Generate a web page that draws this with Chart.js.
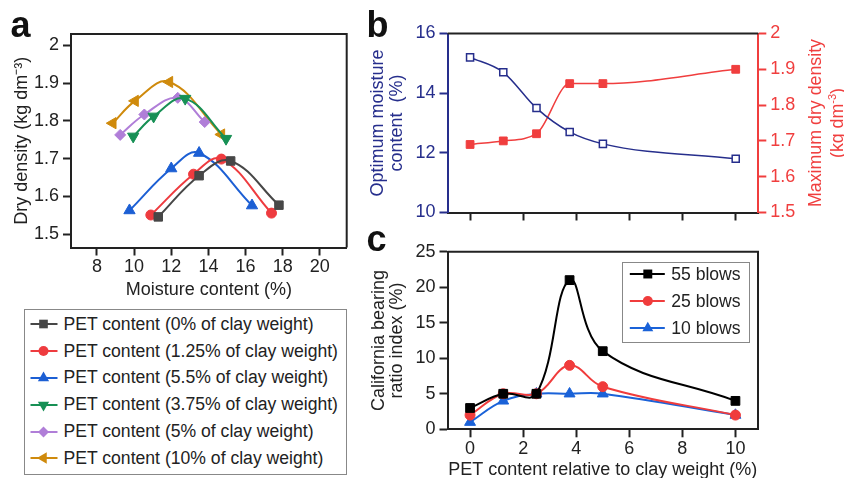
<!DOCTYPE html>
<html lang="en">
<head>
<meta charset="UTF-8">
<title>PET clay compaction</title>
<script src="https://cdn.jsdelivr.net/npm/chart.js"></script>
<style>
  body { margin: 0; background: #fff; font-family: "Liberation Sans", Arial, sans-serif; color: #222; }
  #wrap { position: relative; width: 844px; height: 478px; overflow: hidden; background: #fff; }
  canvas { position: absolute; }
  .plabel { position: absolute; font-weight: bold; font-size: 36px; line-height: 36px; color: #111; }
  .legend { position: absolute; border: 1.5px solid #888; box-sizing: border-box; font-size: 17.6px; }
  .legend .row { display: flex; align-items: center; height: 26.8px; white-space: nowrap; }
  .legend svg { flex: none; }
  .rtitle { position: absolute; width: 210px; height: 44px; font-size: 17.8px; line-height: 22px;
            text-align: center; color: #f03e3e; transform: rotate(-90deg); }
</style>
</head>
<body>
<div id="wrap">
  <canvas id="chartA" width="360" height="300" style="left:0;top:0"></canvas>
  <canvas id="chartB" width="484" height="230" style="left:360px;top:0"></canvas>
  <canvas id="chartC" width="484" height="248" style="left:360px;top:230px"></canvas>

  <div class="plabel" style="left:10.5px;top:7px">a</div>
  <div class="plabel" style="left:366.5px;top:7px">b</div>
  <div class="plabel" style="left:366.5px;top:221px">c</div>

  <!-- right axis title of panel b reads bottom-to-top, so it is placed by hand -->
  <div class="rtitle" style="left:721px;top:101px">Maximum dry density<br>(kg dm<sup style="font-size:11px;line-height:0">-3</sup>)</div>

  <div class="legend" id="legendA" style="left:24px;top:309px;width:323px;height:166px;padding-top:1px"></div>
  <div class="legend" id="legendC" style="left:621.7px;top:261.7px;width:128.3px;height:81.6px"></div>
</div>

<script>
// ---- panel a: compaction curves (moisture %, dry density kg/dm3)
const moisture0 = [11.3, 13.5, 15.2, 17.8];
const density0 = [1.546, 1.655, 1.694, 1.577];
const moisture125 = [10.9, 13.2, 14.7, 17.4];
const density125 = [1.551, 1.659, 1.699, 1.556];
const moisture55 = [9.75, 12.0, 13.5, 16.35];
const density55 = [1.563, 1.674, 1.715, 1.576];
const moisture375 = [9.95, 11.05, 12.75, 14.95];
const density375 = [1.759, 1.812, 1.859, 1.753];
const moisture5 = [9.25, 10.55, 12.35, 13.8];
const density5 = [1.763, 1.817, 1.861, 1.797];
const moisture10 = [8.85, 10.05, 11.9, 14.7];
const density10 = [1.794, 1.853, 1.903, 1.764];
const xTicksA = [8, 10, 12, 14, 16, 18, 20];
const yTicksA = [1.5, 1.6, 1.7, 1.8, 1.9, 2];

// ---- panels b and c share the PET content axis
const petContent = [0, 1.25, 2.5, 3.75, 5, 10];
const optMoisture = [15.2, 14.7, 13.5, 12.7, 12.3, 11.8];
const maxDensity = [1.69, 1.70, 1.72, 1.86, 1.86, 1.90];
const blows55 = [3, 5, 5, 21, 11, 4];
const blows25 = [2, 5, 5, 9, 6, 2];
const blows10 = [1, 4, 5, 5, 5, 2];
const xTicksBC = [0, 2, 4, 6, 8, 10];
const yTicksBLeft = [10, 12, 14, 16];
const yTicksBRight = [1.5, 1.6, 1.7, 1.8, 1.9, 2];
const yTicksC = [0, 5, 10, 15, 20, 25];

const INK = '#222';
const NAVY = '#262e8c';
const RED = '#f03e3e';

Chart.defaults.font.family = '"Liberation Sans", Arial, sans-serif';
Chart.defaults.font.size = 18;
Chart.defaults.color = INK;

function pts(xs, ys) {
    return xs.map((x, i) => ({ x: x, y: ys[i] }));
}
function fixTicks(list) {
    return s => { s.ticks = list.map(v => ({ value: v })); };
}

// top (and right) frame lines around the plot area
const frame = {
    id: 'frame',
    afterDraw(chart, args, opts) {
        const { ctx, chartArea: { left, top, right, bottom } } = chart;
        ctx.save();
        ctx.strokeStyle = INK;
        ctx.lineWidth = 2;
        ctx.beginPath();
        ctx.moveTo(left, top);
        ctx.lineTo(right, top);
        if (opts.right) ctx.lineTo(right, bottom);
        ctx.stroke();
        ctx.restore();
    }
};

function axisGrid(color) {
    return { drawOnChartArea: false, tickLength: 8, tickWidth: 2, tickColor: color };
}

// ---------------- panel a
const seriesA = [
    { label: 'PET content (0% of clay weight)', xs: moisture0, ys: density0, color: '#474747', style: 'rect', r: 6, rot: 0 },
    { label: 'PET content (1.25% of clay weight)', xs: moisture125, ys: density125, color: '#ee3b3f', style: 'circle', r: 5, rot: 0 },
    { label: 'PET content (5.5% of clay weight)', xs: moisture55, ys: density55, color: '#1c5fd4', style: 'triangle', r: 6.5, rot: 0 },
    { label: 'PET content (3.75% of clay weight)', xs: moisture375, ys: density375, color: '#179055', style: 'triangle', r: 6.5, rot: 180 },
    { label: 'PET content (5% of clay weight)', xs: moisture5, ys: density5, color: '#b07ed8', style: 'rectRot', r: 5.5, rot: 0 },
    { label: 'PET content (10% of clay weight)', xs: moisture10, ys: density10, color: '#cf8a0c', style: 'triangle', r: 6.5, rot: -90 }
];

new Chart(document.getElementById('chartA'), {
    type: 'line',
    data: {
        datasets: seriesA.map(s => ({
            label: s.label,
            data: pts(s.xs, s.ys),
            borderColor: s.color,
            backgroundColor: s.color,
            borderWidth: 2,
            pointStyle: s.style,
            pointRadius: s.r,
            pointRotation: s.rot,
            pointBorderWidth: 1,
            tension: 0.4,
            clip: false
        }))
    },
    options: {
        responsive: false,
        animation: false,
        layout: { padding: { left: 0, top: 34, right: 13.3, bottom: 0 } },
        plugins: { legend: { display: false }, tooltip: { enabled: false }, frame: { right: true } },
        scales: {
            x: {
                type: 'linear', min: 6.6, max: 21.45,
                afterBuildTicks: fixTicks(xTicksA),
                afterFit: s => { s.height = 52.5; },
                grid: axisGrid(INK),
                border: { color: INK, width: 2 },
                ticks: { padding: 1, maxRotation: 0, color: INK },
                title: {
                    display: true, text: 'Moisture content (%)', color: INK,
                    font: { size: 18, lineHeight: 1.1 }, padding: { top: 0, bottom: 0 }
                }
            },
            y: {
                min: 1.465, max: 2.03,
                afterBuildTicks: fixTicks(yTicksA),
                afterFit: s => { s.width = 71; },
                grid: axisGrid(INK),
                border: { color: INK, width: 2 },
                ticks: { padding: 4, callback: v => v, color: INK },
                title: { display: true, text: 'Dry density (kg dm\u207B\u00B3)', padding: { top: 11, bottom: 0 }, color: INK }
            }
        }
    },
    plugins: [frame]
});

// ---------------- panel b
new Chart(document.getElementById('chartB'), {
    type: 'line',
    data: {
        datasets: [
            {
                label: 'Optimum moisture content',
                data: pts(petContent, optMoisture),
                yAxisID: 'y',
                borderColor: NAVY,
                backgroundColor: '#fff',
                borderWidth: 1.5,
                pointStyle: 'rect',
                pointRadius: 5,
                pointBorderWidth: 1.5,
                cubicInterpolationMode: 'monotone',
                clip: false
            },
            {
                label: 'Maximum dry density',
                data: pts(petContent, maxDensity),
                yAxisID: 'y2',
                borderColor: RED,
                backgroundColor: RED,
                borderWidth: 1.5,
                pointStyle: 'rect',
                pointRadius: 5.5,
                pointBorderWidth: 1,
                cubicInterpolationMode: 'monotone',
                clip: false
            }
        ]
    },
    options: {
        responsive: false,
        animation: false,
        layout: { padding: { left: 0, top: 33.5, right: 0, bottom: 0 } },
        plugins: { legend: { display: false }, tooltip: { enabled: false }, frame: { right: false } },
        scales: {
            x: {
                type: 'linear', min: -0.85, max: 10.85,
                afterBuildTicks: fixTicks(xTicksBC),
                afterFit: s => { s.height = 17.5; },
                grid: axisGrid(INK),
                border: { color: INK, width: 2 },
                ticks: { display: false }
            },
            y: {
                position: 'left', min: 10, max: 16,
                afterBuildTicks: fixTicks(yTicksBLeft),
                afterFit: s => { s.width = 87.5; },
                grid: axisGrid(NAVY),
                border: { color: NAVY, width: 2 },
                ticks: { padding: 4, color: NAVY, callback: v => v },
                title: {
                    display: true, text: ['Optimum moisture', 'content  (%)'], color: NAVY,
                    font: { size: 18, lineHeight: 1.07 }, padding: { top: 8, bottom: 0 }
                }
            },
            y2: {
                position: 'right', min: 1.5, max: 2,
                afterBuildTicks: fixTicks(yTicksBRight),
                afterFit: s => { s.width = 85.7; },
                grid: axisGrid(RED),
                border: { color: RED, width: 2 },
                ticks: { padding: 4, color: RED, callback: v => v }
            }
        }
    },
    plugins: [frame]
});

// ---------------- panel c
const seriesC = [
    { label: '55 blows', ys: blows55, color: '#000', style: 'rect', r: 6.2, rot: 0 },
    { label: '25 blows', ys: blows25, color: '#f03c3c', style: 'circle', r: 5, rot: 0 },
    { label: '10 blows', ys: blows10, color: '#1a62d8', style: 'triangle', r: 6.3, rot: 0 }
];

new Chart(document.getElementById('chartC'), {
    type: 'line',
    data: {
        datasets: seriesC.map(s => ({
            label: s.label,
            data: pts(petContent, s.ys),
            borderColor: s.color,
            backgroundColor: s.color,
            borderWidth: 2,
            pointStyle: s.style,
            pointRadius: s.r,
            pointRotation: s.rot,
            pointBorderWidth: 1,
            tension: 0.4,
            clip: false
        }))
    },
    options: {
        responsive: false,
        animation: false,
        layout: { padding: { left: 0, top: 21.7, right: 86, bottom: 0 } },
        plugins: { legend: { display: false }, tooltip: { enabled: false }, frame: { right: true } },
        scales: {
            x: {
                type: 'linear', min: -0.85, max: 10.85,
                afterBuildTicks: fixTicks(xTicksBC),
                afterFit: s => { s.height = 48.7; },
                grid: axisGrid(INK),
                border: { color: INK, width: 2 },
                ticks: { padding: 1, maxRotation: 0, color: INK },
                title: {
                    display: true, text: 'PET content relative to clay weight (%)', color: INK,
                    font: { size: 18, lineHeight: 0.9 }, padding: { top: 0, bottom: 0 }
                }
            },
            y: {
                min: 0, max: 25,
                afterBuildTicks: fixTicks(yTicksC),
                afterFit: s => { s.width = 87.5; },
                grid: axisGrid(INK),
                border: { color: INK, width: 2 },
                ticks: { padding: 4, color: INK },
                title: {
                    display: true, text: ['California bearing', 'ratio index (%)'], color: INK,
                    font: { size: 18, lineHeight: 0.97 }, padding: { top: 10.5, bottom: 0 }
                }
            }
        }
    },
    plugins: [frame]
});

// ---------------- legends (line sample + marker, then text)
function markerSvg(style, color, rot, cx, cy, size) {
    const h = size;
    if (style === 'rect') {
        return `<rect x="${cx - h * 0.72}" y="${cy - h * 0.72}" width="${h * 1.44}" height="${h * 1.44}" fill="${color}"/>`;
    }
    if (style === 'circle') {
        return `<circle cx="${cx}" cy="${cy}" r="${h}" fill="${color}"/>`;
    }
    if (style === 'rectRot') {
        return `<polygon points="${cx},${cy - h} ${cx + h},${cy} ${cx},${cy + h} ${cx - h},${cy}" fill="${color}"/>`;
    }
    const p = [0, 120, 240].map(a => {
        const t = (a + rot) * Math.PI / 180;
        return `${cx + Math.sin(t) * h},${cy - Math.cos(t) * h}`;
    }).join(' ');
    return `<polygon points="${p}" fill="${color}"/>`;
}

function buildLegend(el, series, svgW, x0, x1, mx, textGap) {
    el.innerHTML = series.map(s => `
        <div class="row">
            <svg width="${svgW}" height="20" viewBox="0 0 ${svgW} 20">
                <line x1="${x0}" y1="10" x2="${x1}" y2="10" stroke="${s.color}" stroke-width="2"/>
                ${markerSvg(s.style, s.color, s.rot, mx, 10, s.r)}
            </svg>
            <span style="margin-left:${textGap}px">${s.label}</span>
        </div>`).join('');
}

buildLegend(document.getElementById('legendA'), seriesA, 38, 5.5, 32.5, 18.5, 0.5);
buildLegend(document.getElementById('legendC'), seriesC, 48.5, 6.8, 41.8, 24.8, 0);
document.querySelectorAll('#legendC .row')[0].style.marginTop = '-1.6px';
</script>
</body>
</html>
